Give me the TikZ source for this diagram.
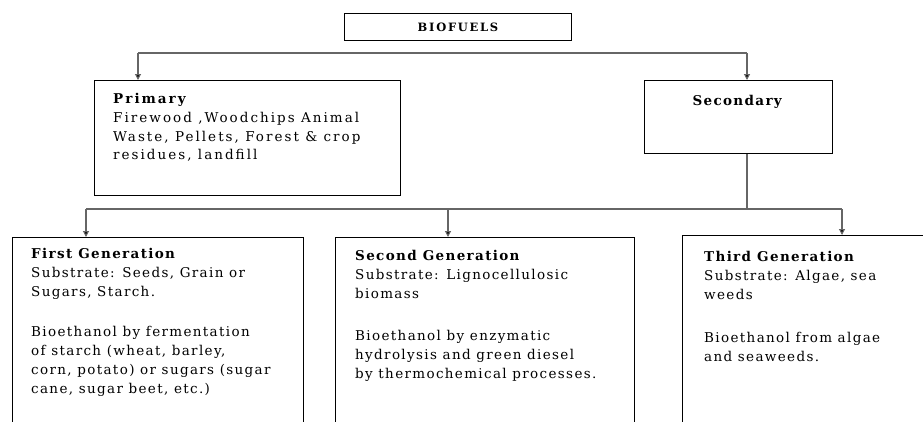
\documentclass[tikz,border=0pt]{standalone}
\usepackage{fontspec}
\setmainfont[LetterSpace=10]{DejaVu Serif}
\newfontfamily\titlefont[LetterSpace=15]{DejaVu Serif}
\newfontfamily\primfont[LetterSpace=15]{DejaVu Serif}
\usetikzlibrary{arrows.meta}
\begin{document}
\begin{tikzpicture}[x=1pt,y=-1pt,
  box/.style={draw=black,line width=1pt,anchor=north west,inner sep=0pt},
  txt/.style={anchor=north west,inner sep=0pt,align=left,
    font=\fontsize{13.5}{18.8}\selectfont},
  conn/.style={draw=black!60,line width=1.1pt},
  arr/.style={conn,-{Triangle[length=6pt,width=6pt,fill=black]}}]
\useasboundingbox (0,0) rectangle (923,421);
\clip (0,0) rectangle (923,421);
% boxes
\node[box,minimum width=227pt,minimum height=27pt,
  font=\titlefont\bfseries\fontsize{11.5}{13}\selectfont] (bio) at (344,13) {BIOFUELS};
\node[box,minimum width=306pt,minimum height=115pt] (prim) at (94,80) {};
\node[box,minimum width=188pt,minimum height=73pt] (sec) at (644,80) {};
\node[box,minimum width=291pt,minimum height=260pt] (g1) at (12,237) {};
\node[box,minimum width=299pt,minimum height=260pt] (g2) at (335,237) {};
\node[box,minimum width=300pt,minimum height=260pt] (g3) at (682,235) {};
% texts
\node[txt,font=\primfont\fontsize{13.5}{18.8}\selectfont] (tprim) at (113,93) {\textbf{Primary}\\Firewood ,Woodchips Animal\\Waste, Pellets, Forest \& crop\\residues, landfill};
\node[txt,anchor=base] (tsec) at (738,105) {\textbf{Secondary}};
\node[txt] (tg1) at (31,248) {\textbf{First Generation}\\Substrate: Seeds, Grain or\\Sugars, Starch.\\[22pt]Bioethanol by fermentation\\of starch (wheat, barley,\\corn, potato) or sugars (sugar\\cane, sugar beet, etc.)};
\node[txt] (tg2) at (355,250) {\textbf{Second Generation}\\Substrate: Lignocellulosic\\biomass\\[24pt]Bioethanol by enzymatic\\hydrolysis and green diesel\\by thermochemical processes.};
\node[txt] (tg3) at (704,251) {\textbf{Third Generation}\\Substrate: Algae, sea\\weeds\\[25pt]Bioethanol from algae\\and seaweeds.};
% connectors
\coordinate (l1) at (138,53);
\coordinate (r1) at (747,53);
\draw[conn] (l1) -- (r1);
\draw[arr] (l1) -- (l1 |- prim.north);
\draw[arr] (r1) -- (r1 |- sec.north);
\coordinate (l2) at (86,209);
\coordinate (m2) at (448,209);
\coordinate (r2) at (842,209);
\draw[conn] (r1 |- sec.south) -- (r1 |- l2);
\draw[conn] (l2) -- (r2);
\draw[arr] (l2) -- (l2 |- g1.north);
\draw[arr] (m2) -- (m2 |- g2.north);
\draw[arr] (r2) -- (r2 |- g3.north);
\end{tikzpicture}
\end{document}
